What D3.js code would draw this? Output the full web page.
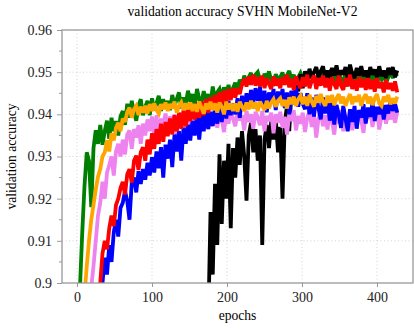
<!DOCTYPE html>
<html lang="en">
  <head>
    <meta charset="UTF-8" />
    <title>validation accuracy SVHN MobileNet-V2</title>
    <style>
      body {
        margin: 0;
        background: #fff;
      }
      svg {
        display: block;
        font-family: "Liberation Serif", "DejaVu Serif", serif;
      }
      .grid line {
        stroke: #c8c8c8;
        stroke-width: 0.8px;
        stroke-dasharray: 1 2.5;
      }
      .axis path,
      .axis line {
        stroke: #999;
      }
      .axis text {
        font-family: "Liberation Serif", "DejaVu Serif", serif;
        font-size: 14px;
        fill: #222;
      }
      .series {
        fill: none;
        stroke-width: 3.8px;
        stroke-linejoin: miter;
        stroke-miterlimit: 2.5;
      }
    </style>
  </head>
  <body>
    <svg width="414" height="329"></svg>

    <script src="https://d3js.org/d3.v7.min.js"></script>
    <script>
      // epochs are sampled every 3rd epoch
      const epochs = d3.range(1, 428, 3);
      const blackEpochs = d3.range(175, 428, 3);

      const green = [
        .8800, .8990, .9120, .9230, .9310, .9290, .9180, .9320, .9362, .9330,
        .9375, .9328, .9360, .9385, .9342, .9392, .9360, .9384, .9350, .9395,
        .9408, .9375, .9425, .9392, .9432, .9405, .9385, .9420, .9436, .9398,
        .9418, .9432, .9398, .9438, .9410, .9426, .9444, .9408, .9436, .9415,
        .9432, .9410, .9446, .9420, .9436, .9452, .9414, .9440, .9425, .9456,
        .9430, .9448, .9418, .9460, .9436, .9428, .9455, .9432, .9448, .9426,
        .9466, .9436, .9452, .9460, .9438, .9464, .9446, .9470, .9442, .9462,
        .9475, .9458, .9482, .9468, .9492, .9472, .9488, .9498, .9476, .9494,
        .9500, .9482, .9476, .9496, .9485, .9502, .9480, .9474, .9495, .9484,
        .9488, .9499, .9478, .9492, .9503, .9482, .9494, .9475, .9488, .9498,
        .9484, .9476, .9497, .9486, .9500, .9480, .9474, .9494, .9485, .9498,
        .9478, .9490, .9499, .9483, .9503, .9476, .9494, .9486, .9474, .9497,
        .9486, .9499, .9477, .9502, .9482, .9494, .9487, .9475, .9497, .9484,
        .9494, .9480, .9502, .9476, .9490, .9483, .9498, .9474, .9488, .9500,
        .9486, .9498, .9490
      ];

      const orange = [
        .8700, .8800, .8880, .8970, .9040, .9100, .9150, .9185, .9222, .9252,
        .9270, .9300, .9310, .9338, .9312, .9355, .9338, .9368, .9380, .9360,
        .9390, .9382, .9405, .9416, .9392, .9412, .9420, .9398, .9418, .9404,
        .9420, .9402, .9424, .9408, .9426, .9410, .9402, .9424, .9412, .9428,
        .9408, .9424, .9414, .9430, .9404, .9420, .9428, .9410, .9426, .9412,
        .9428, .9408, .9424, .9406, .9430, .9416, .9402, .9426, .9412, .9430,
        .9410, .9426, .9404, .9428, .9418, .9400, .9430, .9412, .9426, .9408,
        .9426, .9406, .9430, .9418, .9408, .9428, .9412, .9432, .9414, .9428,
        .9408, .9430, .9420, .9410, .9432, .9414, .9428, .9436, .9418, .9432,
        .9438, .9420, .9434, .9414, .9440, .9424, .9442, .9420, .9436, .9444,
        .9424, .9442, .9420, .9446, .9430, .9418, .9444, .9428, .9448, .9430,
        .9420, .9444, .9428, .9446, .9422, .9438, .9448, .9426, .9442, .9420,
        .9436, .9448, .9424, .9442, .9430, .9446, .9420, .9438, .9448, .9426,
        .9442, .9422, .9438, .9448, .9426, .9420, .9442, .9430, .9446, .9424,
        .9438, .9426, .9442
      ];

      const violet = [
        .8600, .8700, .8780, .8850, .8900, .8950, .8990, .9040, .9100, .9160,
        .9190, .9240, .9200, .9262, .9280, .9300, .9255, .9312, .9330, .9300,
        .9340, .9305, .9352, .9362, .9318, .9365, .9345, .9374, .9330, .9378,
        .9350, .9388, .9360, .9395, .9352, .9398, .9345, .9390, .9372, .9402,
        .9362, .9395, .9378, .9400, .9350, .9392, .9404, .9368, .9396, .9360,
        .9392, .9404, .9372, .9398, .9355, .9406, .9380, .9396, .9365, .9402,
        .9384, .9406, .9368, .9400, .9388, .9358, .9404, .9378, .9408, .9390,
        .9372, .9406, .9386, .9398, .9362, .9408, .9382, .9400, .9366, .9406,
        .9392, .9374, .9408, .9360, .9396, .9384, .9404, .9355, .9400, .9380,
        .9406, .9368, .9394, .9352, .9402, .9384, .9410, .9362, .9396, .9378,
        .9404, .9358, .9392, .9408, .9370, .9400, .9345, .9390, .9410, .9372,
        .9398, .9364, .9406, .9384, .9352, .9400, .9378, .9410, .9360, .9396,
        .9380, .9408, .9362, .9402, .9374, .9410, .9386, .9356, .9404, .9390,
        .9408, .9370, .9400, .9412, .9364, .9396, .9414, .9378, .9404, .9388,
        .9410, .9380, .9406
      ];

      const red = [
        .8500, .8600, .8680, .8750, .8800, .8850, .8890, .8930, .8960, .8980,
        .9000, .9070, .9100, .9080, .9130, .9160, .9135, .9185, .9200, .9225,
        .9240, .9210, .9258, .9270, .9238, .9290, .9302, .9268, .9310, .9322,
        .9290, .9340, .9305, .9355, .9318, .9365, .9330, .9378, .9335, .9382,
        .9348, .9390, .9352, .9398, .9360, .9404, .9366, .9410, .9372, .9414,
        .9384, .9420, .9388, .9426, .9392, .9430, .9398, .9436, .9404, .9440,
        .9412, .9446, .9418, .9452, .9424, .9456, .9428, .9460, .9434, .9462,
        .9440, .9462, .9448, .9472, .9484, .9466, .9490, .9470, .9494, .9468,
        .9488, .9466, .9492, .9462, .9486, .9472, .9460, .9490, .9468, .9484,
        .9462, .9488, .9470, .9494, .9464, .9484, .9458, .9490, .9474, .9462,
        .9488, .9466, .9494, .9462, .9480, .9492, .9460, .9486, .9468, .9492,
        .9464, .9486, .9456, .9488, .9472, .9460, .9492, .9468, .9458, .9486,
        .9466, .9494, .9460, .9482, .9456, .9488, .9464, .9484, .9458, .9486,
        .9460, .9482, .9454, .9486, .9462, .9476, .9452, .9482, .9460, .9474,
        .9456, .9478, .9452
      ];

      const blue = [
        .8400, .8500, .8580, .8650, .8700, .8750, .8800, .8840, .8880, .8920,
        .8960, .9000, .9060, .9020, .9090, .9050, .9120, .9150, .9110, .9178,
        .9190, .9218, .9195, .9150, .9238, .9250, .9215, .9265, .9235, .9270,
        .9245, .9285, .9255, .9298, .9262, .9312, .9272, .9322, .9250, .9328,
        .9295, .9340, .9275, .9352, .9312, .9360, .9290, .9368, .9330, .9375,
        .9338, .9384, .9350, .9395, .9340, .9402, .9360, .9410, .9365, .9406,
        .9372, .9415, .9378, .9420, .9382, .9428, .9390, .9432, .9398, .9426,
        .9400, .9438, .9392, .9444, .9410, .9450, .9416, .9458, .9428, .9462,
        .9432, .9464, .9420, .9456, .9405, .9452, .9426, .9460, .9410, .9454,
        .9428, .9460, .9415, .9452, .9400, .9456, .9424, .9464, .9418, .9450,
        .9425, .9412, .9450, .9400, .9440, .9395, .9446, .9414, .9388, .9440,
        .9402, .9436, .9385, .9430, .9376, .9422, .9400, .9368, .9420, .9390,
        .9360, .9412, .9382, .9420, .9366, .9410, .9392, .9424, .9378, .9416,
        .9394, .9428, .9384, .9418, .9400, .9430, .9388, .9422, .9402, .9432,
        .9408, .9426, .9404
      ];

      const black = [
        .8900, .9168, .9020, .9235, .9090, .9305, .9140, .9290, .9200, .9330,
        .9130, .9320, .9250, .9345, .9280, .9360, .9300, .9195, .9350, .9380,
        .9310, .9365, .9290, .9350, .9090, .9340, .9375, .9320, .9385, .9340,
        .9390, .9310, .9370, .9200, .9380, .9420, .9360, .9455, .9430, .9470,
        .9455, .9495, .9462, .9502, .9482, .9508, .9486, .9500, .9512, .9488,
        .9502, .9514, .9486, .9504, .9484, .9510, .9492, .9516, .9488, .9504,
        .9494, .9512, .9486, .9518, .9496, .9486, .9510, .9492, .9514, .9490,
        .9504, .9486, .9512, .9494, .9506, .9488, .9514, .9490, .9504, .9486,
        .9510, .9494, .9512, .9488, .9504
      ];

      // draw order: bottom first
      const seriesList = [
        { name: "green", color: "#008000", x: epochs, y: green },
        { name: "black", color: "#000000", x: blackEpochs, y: black },
        { name: "violet", color: "#ee82ee", x: epochs, y: violet },
        { name: "blue", color: "#0000ff", x: epochs, y: blue },
        { name: "red", color: "#ff0000", x: epochs, y: red },
        { name: "orange", color: "#ffa500", x: epochs, y: orange },
      ];

      const xTicks = [0, 100, 200, 300, 400];
      const yTicks = [0.9, 0.91, 0.92, 0.93, 0.94, 0.95, 0.96];
      const yMinorTicks = [0.905, 0.915, 0.925, 0.935, 0.945, 0.955];

      const svg = d3.select("svg");
      const mLeft = 62,
        mRight = 413,
        mTop = 30,
        mBottom = 283;

      const x = d3.scaleLinear().domain([-20, 448]).range([mLeft, mRight]);
      const y = d3.scaleLinear().domain([0.9, 0.96]).range([mBottom, mTop]);

      // grid
      const grid = svg.append("g").attr("class", "grid");
      grid
        .selectAll("line.gx")
        .data(xTicks)
        .join("line")
        .attr("class", "gx")
        .attr("x1", (d) => x(d))
        .attr("x2", (d) => x(d))
        .attr("y1", mTop)
        .attr("y2", mBottom);
      grid
        .selectAll("line.gy")
        .data(yTicks.slice(1, -1))
        .join("line")
        .attr("class", "gy")
        .attr("x1", mLeft)
        .attr("x2", mRight)
        .attr("y1", (d) => y(d))
        .attr("y2", (d) => y(d));

      // lines
      svg
        .append("clipPath")
        .attr("id", "clip")
        .append("rect")
        .attr("x", mLeft)
        .attr("y", mTop)
        .attr("width", mRight - mLeft)
        .attr("height", mBottom - mTop);

      const plot = svg.append("g").attr("clip-path", "url(#clip)");

      seriesList.forEach((s) => {
        const line = d3
          .line()
          .x((d, i) => x(s.x[i]))
          .y((d) => y(d));
        plot
          .append("path")
          .attr("class", "series")
          .attr("stroke", s.color)
          .attr("d", line(s.y));
      });

      // axes
      svg
        .append("g")
        .attr("class", "axis")
        .attr("transform", `translate(0,${mBottom})`)
        .call(
          d3.axisBottom(x).tickValues(xTicks).tickSize(4).tickSizeOuter(0).tickPadding(5)
        )
        .call((g) => g.select(".domain").remove());

      svg
        .append("g")
        .attr("class", "axis")
        .attr("transform", `translate(${mLeft},0)`)
        .call(
          d3
            .axisLeft(y)
            .tickValues(yTicks)
            .tickFormat((d) => String(+d.toFixed(2)))
            .tickSize(5)
            .tickSizeOuter(0)
            .tickPadding(5)
        )
        .call((g) => g.select(".domain").remove());

      svg
        .append("g")
        .attr("class", "axis")
        .selectAll("line")
        .data(yMinorTicks)
        .join("line")
        .attr("x1", mLeft - 3)
        .attr("x2", mLeft)
        .attr("y1", (d) => y(d))
        .attr("y2", (d) => y(d));

      svg
        .append("rect")
        .attr("x", mLeft)
        .attr("y", mTop)
        .attr("width", mRight - mLeft)
        .attr("height", mBottom - mTop)
        .attr("fill", "none")
        .attr("stroke", "#999")
        .attr("stroke-width", 1.3);

      // labels
      svg
        .append("text")
        .attr("x", (mLeft + mRight) / 2 + 5)
        .attr("y", 16)
        .attr("text-anchor", "middle")
        .style("font-size", "13.6px")
        .text("validation accuracy SVHN MobileNet-V2");

      svg
        .append("text")
        .attr("x", (mLeft + mRight) / 2)
        .attr("y", 320)
        .attr("text-anchor", "middle")
        .style("font-size", "13.6px")
        .text("epochs");

      svg
        .append("text")
        .attr("transform", `translate(16,${(mTop + mBottom) / 2}) rotate(-90)`)
        .attr("text-anchor", "middle")
        .style("font-size", "13.6px")
        .text("validation accuracy");
    </script>
  </body>
</html>
